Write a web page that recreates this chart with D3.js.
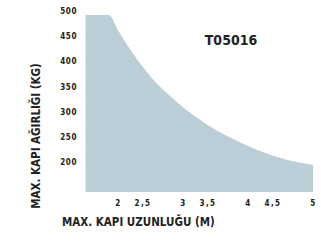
<html>
  <head>
    <meta charset="utf-8"/>
    <style>
      body { margin: 0; background: white; }
      text { font-family: "Liberation Sans Narrow", "DejaVu Sans Condensed", sans-serif; font-weight: bold; fill: #222; }
    </style>
    <script src="https://d3js.org/d3.v7.min.js"></script>
  </head>
  <body>
    <script>
    var lengths = [1.5, 1.86, 2.0, 2.25, 2.5, 2.75, 3.0, 3.25, 3.5, 3.75, 4.0, 4.25, 4.5, 4.75, 5.0];
    var weights = [492, 492, 462, 412, 370, 337, 309, 285, 264, 247, 232, 219, 208, 200, 194];
    var xTicks = [2, 2.5, 3, 3.5, 4, 4.5, 5];
    var yTicks = [500, 450, 400, 350, 300, 250, 200];

    var width = 321, height = 241;
    var svg = d3.select("body").append("svg").attr("width", width).attr("height", height);

    var x = d3.scaleLinear().domain([2, 5]).range([118, 313]);
    var y = d3.scaleLinear().domain([200, 500]).range([162, 11]);
    var base = y.invert(192);

    var data = lengths.map((l, i) => ({l: l, w: weights[i]}));

    var area = d3.area()
      .x(d => x(d.l))
      .y0(y(base))
      .y1(d => y(d.w))
      .curve(d3.curveMonotoneX);

    svg.append("path").datum(data).attr("d", area).attr("fill", "#bccfd9");

    // y ticks
    var yAxis = d3.axisLeft(y).tickValues(yTicks).tickSize(0).tickPadding(0)
      .tickFormat(d3.format("d"));
    var gy = svg.append("g").attr("transform", "translate(77,0)").call(yAxis);
    gy.select(".domain").remove();
    gy.selectAll("text").attr("font-size", 8).attr("letter-spacing", 0.6)
      .attr("font-family", null);

    // x ticks
    var xAxis = d3.axisBottom(x).tickValues(xTicks).tickSize(0).tickPadding(0)
      .tickFormat(d => String(d).replace(".", ","));
    var gx = svg.append("g").attr("transform", "translate(0,200)").call(xAxis);
    gx.select(".domain").remove();
    gx.selectAll("text").attr("font-size", 8).attr("letter-spacing", 1.5)
      .attr("font-family", null)
      .attr("dx", d => d % 1 ? -8 : 0);

    svg.append("text").attr("x", 231).attr("y", 45).attr("text-anchor", "middle")
      .attr("font-size", 14).text("T05016");

    svg.append("text").attr("x", 62).attr("y", 226).attr("font-size", 11.5)
      .text("MAX. KAPI UZUNLUĞU (M)");

    svg.append("text").attr("transform", "translate(40,136) rotate(-90)")
      .attr("text-anchor", "middle").attr("font-size", 11.5)
      .text("MAX. KAPI AĞIRLIĞI (KG)");
    </script>
  </body>
</html>
